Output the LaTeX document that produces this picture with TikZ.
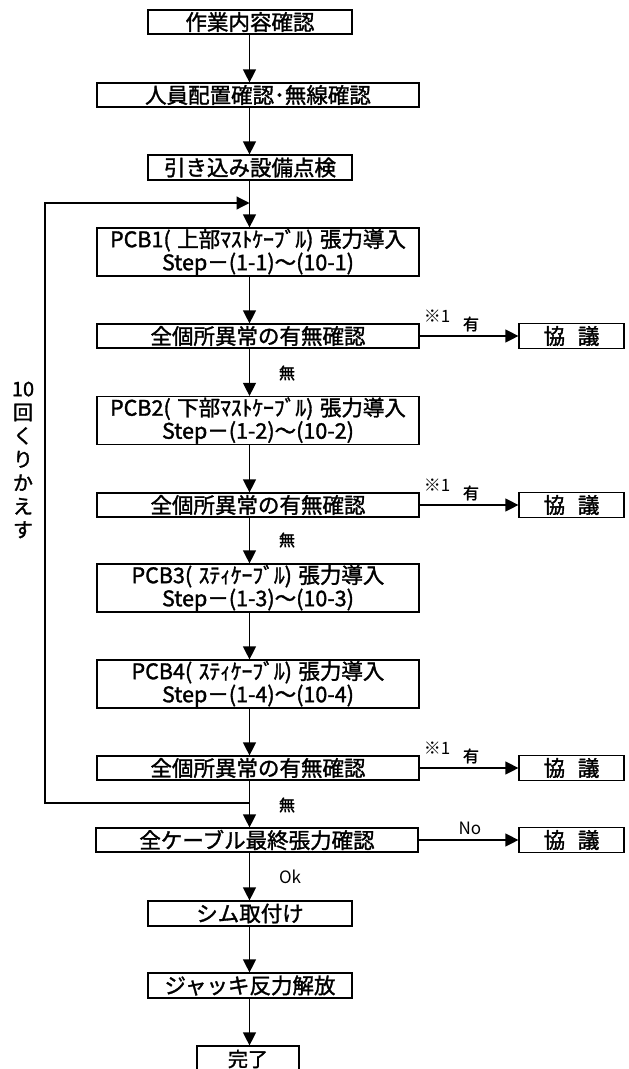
\documentclass[tikz,border=0pt]{standalone}
\usepackage{fontspec}
\setmainfont{Noto Sans CJK JP}
\newfontfamily\boxfont{Noto Sans CJK JP}[FakeBold=1.5]
\usetikzlibrary{arrows.meta}
\newcommand{\pgap}{\hspace{0.3em}}
\begin{document}
\begin{tikzpicture}[x=1pt,y=-1pt,
  box/.style={draw,line width=1.2pt,inner sep=0pt,minimum height=24pt,
    font=\boxfont\fontsize{21.5}{23}\selectfont,align=center},
  narrowbox/.style={box,minimum width=204pt},
  widebox/.style={box,minimum width=322pt},
  pcbbox/.style={widebox,minimum height=48pt},
  talkbox/.style={box,minimum width=105pt,minimum height=25pt},
  conn/.style={line width=1.2pt},
  arr/.style={conn,-{Triangle[length=13pt,width=13pt]}},
  smalllbl/.style={inner sep=0pt,font=\boxfont\fontsize{16}{18}\selectfont},
  latinlbl/.style={inner sep=0pt,font=\fontsize{17}{19}\selectfont},
  notelbl/.style={inner sep=0pt,font=\fontsize{17}{19}\selectfont}
]
\useasboundingbox (0,0) rectangle (629,1069);
\fill[white] (0,0) rectangle (629,1069);

% axis
\coordinate (ax) at (249.5,0);
\coordinate (lx) at (45,0);

% boxes
\node[narrowbox] (b1) at (250,22) {作業内容確認};
\node[widebox] (b2) at (258,95) {人員配置確認･無線確認};
\node[narrowbox,minimum height=25pt] (b3) at (250,167.5) {引き込み設備点検};
\node[pcbbox] (p1) at (258,252) {PCB1(\pgap 上部ﾏｽﾄｹｰﾌﾞﾙ)\pgap 張力導入\\Step－(1-1)～(10-1)};
\node[widebox] (c1) at (258,336) {全個所異常の有無確認};
\node[talkbox] (k1) at (571.5,336) {協\hspace{0.6em}議};
\node[pcbbox] (p2) at (258,420.5) {PCB2(\pgap 下部ﾏｽﾄｹｰﾌﾞﾙ)\pgap 張力導入\\Step－(1-2)～(10-2)};
\node[widebox] (c2) at (258,505) {全個所異常の有無確認};
\node[talkbox] (k2) at (571.5,505) {協\hspace{0.6em}議};
\node[pcbbox] (p3) at (258,588) {PCB3(\pgap ｽﾃｨｹｰﾌﾞﾙ)\pgap 張力導入\\Step－(1-3)～(10-3)};
\node[pcbbox] (p4) at (258,684) {PCB4(\pgap ｽﾃｨｹｰﾌﾞﾙ)\pgap 張力導入\\Step－(1-4)～(10-4)};
\node[widebox] (c3) at (258,768) {全個所異常の有無確認};
\node[talkbox] (k3) at (571.5,768) {協\hspace{0.6em}議};
\node[widebox] (fin) at (257,840) {全ケーブル最終張力確認};
\node[talkbox] (k4) at (571.5,840) {協\hspace{0.6em}議};
\node[narrowbox,minimum height=25pt] (shim) at (250,913.5) {シム取付け};
\node[narrowbox,minimum height=25pt] (jack) at (250,985.5) {ジャッキ反力解放};
\node[box,minimum width=102pt,minimum height=26pt,font=\boxfont\fontsize{20}{22}\selectfont] (done) at (248,1059) {完了};

% loop coordinates
\coordinate (lt) at (249.5,203);
\coordinate (lb) at (249.5,803);

% vertical connectors
\draw[arr] (b1.south -| ax) -- (b2.north -| ax);
\draw[arr] (b2.south -| ax) -- (b3.north -| ax);
\draw[arr] (b3.south -| ax) -- (p1.north -| ax);
\draw[arr] (p1.south -| ax) -- (c1.north -| ax);
\draw[arr] (c1.south -| ax) -- (p2.north -| ax);
\draw[arr] (p2.south -| ax) -- (c2.north -| ax);
\draw[arr] (c2.south -| ax) -- (p3.north -| ax);
\draw[arr] (p3.south -| ax) -- (p4.north -| ax);
\draw[arr] (p4.south -| ax) -- (c3.north -| ax);
\draw[arr] (c3.south -| ax) -- (fin.north -| ax);
\draw[arr] (fin.south -| ax) -- (shim.north -| ax);
\draw[arr] (shim.south -| ax) -- (jack.north -| ax);
\draw[arr] (jack.south -| ax) -- (done.north -| ax);

% loop back
\draw[arr] (lb) -| (lx |- lt) -- (lt);

% side connectors
\draw[arr] (c1.east) -- (k1.west);
\draw[arr] (c2.east) -- (k2.west);
\draw[arr] (c3.east) -- (k3.west);
\draw[arr] (fin.east) -- (k4.west);

% labels
\node[notelbl] (n1) at (437,316) {※1};
\node[smalllbl] (y1) at (471,324) {有};
\node[notelbl] (n2) at (437,485) {※1};
\node[smalllbl] (y2) at (471,493) {有};
\node[notelbl] (n3) at (437,748) {※1};
\node[smalllbl] (y3) at (471,756) {有};
\node[smalllbl] (m1) at (287,373) {無};
\node[smalllbl] (m2) at (287,540) {無};
\node[smalllbl] (m3) at (287,805) {無};
\node[latinlbl] (no) at (470,828) {No};
\node[latinlbl] (ok) at (290,877) {Ok};

% vertical note
\node[inner sep=0pt,align=center,font=\boxfont\fontsize{20}{23.5}\selectfont] (rep) at (23,460)
  {10\\回\\く\\り\\か\\え\\す};
\end{tikzpicture}
\end{document}
